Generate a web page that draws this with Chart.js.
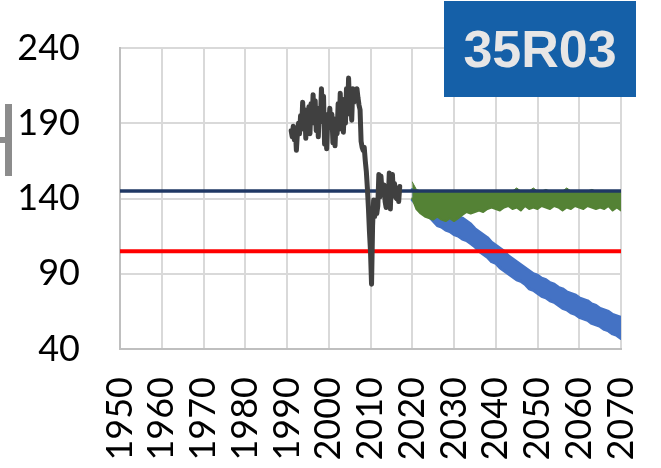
<!DOCTYPE html>
<html>
<head>
<meta charset="utf-8">
<script src="https://cdn.jsdelivr.net/npm/chart.js@4.4.1/dist/chart.umd.min.js"></script>
<style>
  html, body { margin: 0; padding: 0; background: #fff; }
  #wrap { position: relative; width: 661px; height: 468px; overflow: hidden; }
  #chart { position: absolute; left: 0; top: 0; }
  .titulo {
    position: absolute; left: 444px; top: 1px; width: 192px; height: 96px;
    background: #1560a8; color: #e7e6e6;
    font: bold 52px "Liberation Sans", Arial, sans-serif;
    display: flex; align-items: center; justify-content: center;
  }
  .barra { position: absolute; background: #8c8c8c; }
</style>
</head>
<body>
<div id="wrap">
  <canvas id="chart" width="661" height="468"></canvas>
  <div class="barra" style="left:5px; top:104px; width:7px; height:72px;"></div>
  <div class="barra" style="left:0px; top:137px; width:5px; height:6px;"></div>
  <div class="titulo">35R03</div>
</div>
<script>
// eje x: años, eje y: nivel
const X_TICKS = [1950, 1960, 1970, 1980, 1990, 2000, 2010, 2020, 2030, 2040, 2050, 2060, 2070];
const Y_TICKS = [40, 90, 140, 190, 240];

// umbrales
const LIMITE_ALTO = 145;
const LIMITE_BAJO = 105;

// serie historica (trimestral)
const histYears = [
  1991.00, 1991.25, 1991.50, 1991.75, 1992.00, 1992.25, 1992.50, 1992.75,
  1993.00, 1993.25, 1993.50, 1993.75, 1994.00, 1994.25, 1994.50, 1994.75,
  1995.00, 1995.25, 1995.50, 1995.75, 1996.00, 1996.25, 1996.50, 1996.75,
  1997.00, 1997.25, 1997.50, 1997.75, 1998.00, 1998.25, 1998.50, 1998.75,
  1999.00, 1999.25, 1999.50, 1999.75, 2000.00, 2000.25, 2000.50, 2000.75,
  2001.00, 2001.25, 2001.50, 2001.75, 2002.00, 2002.25, 2002.50, 2002.75,
  2003.00, 2003.25, 2003.50, 2003.75, 2004.00, 2004.25, 2004.50, 2004.75,
  2005.00, 2005.25, 2005.50, 2005.75, 2006.00, 2006.25, 2006.50, 2006.75,
  2007.00, 2007.25, 2007.50, 2007.75, 2008.00, 2008.25, 2008.50, 2008.75,
  2009.00, 2009.25, 2009.50, 2009.75, 2010.00, 2010.25, 2010.50, 2010.75,
  2011.00, 2011.25, 2011.50, 2011.75, 2012.00, 2012.25, 2012.50, 2012.75,
  2013.00, 2013.25, 2013.50, 2013.75, 2014.00, 2014.25, 2014.50, 2014.75,
  2015.00, 2015.25, 2015.50, 2015.75, 2016.00, 2016.25, 2016.50, 2016.75,
  2017.00
];
const histVals = [
  185, 181, 188, 179, 186, 172, 184, 190,
  183, 195, 186, 204, 190, 199, 180, 196,
  186, 201, 183, 203, 190, 209, 192, 205,
  185, 198, 181, 200, 191, 213, 196, 208,
  176, 196, 173, 192, 187, 200, 188, 196,
  177, 193, 175, 191, 183, 203, 186, 210,
  192, 206, 184, 200, 190, 213, 196, 220,
  200, 208, 192, 213, 204, 212, 205, 213,
  207, 202, 199, 178, 174, 172, 174, 165,
  158, 147, 134, 118, 105, 83, 122, 139,
  128, 139, 130, 135, 156, 141, 155, 145,
  143, 149, 138, 134, 147, 138, 157, 133,
  152, 156, 142, 150, 141, 140, 146, 138,
  148
];

// proyecciones (anuales)
const projYears = [
  2020, 2021, 2022, 2023, 2024, 2025, 2026, 2027, 2028, 2029,
  2030, 2031, 2032, 2033, 2034, 2035, 2036, 2037, 2038, 2039,
  2040, 2041, 2042, 2043, 2044, 2045, 2046, 2047, 2048, 2049,
  2050, 2051, 2052, 2053, 2054, 2055, 2056, 2057, 2058, 2059,
  2060, 2061, 2062, 2063, 2064, 2065, 2066, 2067, 2068, 2069,
  2070
];
const blueHigh = [
  146, 143, 141, 139, 137, 135, 133, 132, 131, 130,
  129, 128, 127, 125, 123, 120, 118, 116, 114, 111,
  109, 107, 105, 102, 100, 98, 96, 94, 92, 90,
  89, 87, 86, 84, 83, 81, 80, 78, 77, 76,
  74, 73, 72, 70, 69, 67, 66, 65, 63, 62,
  61
];
const blueLow = [
  139, 136, 133, 130, 128, 125, 122, 121, 119, 118,
  116, 115, 113, 112, 110, 108, 105, 103, 101, 98,
  97, 94, 92, 90, 88, 86, 85, 83, 80, 79,
  77, 75, 74, 72, 71, 69, 67, 66, 64, 63,
  61, 60, 59, 57, 56, 55, 53, 52, 50, 49,
  47
];
const greenHigh = [
  151, 146, 145, 145, 145, 145, 145, 145, 145, 145,
  145, 145, 145, 145, 145, 145, 145, 145, 145, 145,
  145, 145, 145, 145, 145, 147, 145, 145, 145, 147,
  145, 145, 146, 145, 145, 145, 145, 147, 145, 145,
  145, 145, 145, 146, 145, 145, 145, 145, 145, 145,
  145
];
const greenLow = [
  140, 133, 130, 128, 127, 126, 128, 126, 125, 127,
  125, 127, 129, 131, 130, 131, 132, 131, 133, 134,
  133, 132, 134, 135, 133, 134, 132, 135, 133, 134,
  133, 135, 134, 133, 135, 134, 132, 134, 133, 135,
  134, 133, 135, 134, 133, 134, 133, 135, 132, 134,
  132
];

const COLORS = {
  HIST: '#404040',
  ALTO: '#203864',
  BAJO: '#ff0000',
  VERDE: '#548235',
  AZUL: '#4472c4',
  GRID: '#d9d9d9',
  EJE: '#bfbfbf'
};

function puntos(xs, ys) {
  return xs.map((x, i) => ({ x: x, y: ys[i] }));
}

const lineaPlana = (valor) => [{ x: X_TICKS[0], y: valor }, { x: X_TICKS[X_TICKS.length - 1], y: valor }];

const fuente = { family: 'Lato, "Open Sans", sans-serif', size: 36 };

new Chart(document.getElementById('chart').getContext('2d'), {
  type: 'line',
  data: {
    datasets: [
      { data: puntos(histYears, histVals), borderColor: COLORS.HIST, borderWidth: 5, fill: false },
      { data: lineaPlana(LIMITE_BAJO), borderColor: COLORS.BAJO, borderWidth: 4, fill: false },
      { data: lineaPlana(LIMITE_ALTO), borderColor: COLORS.ALTO, borderWidth: 3.5, fill: false },
      { data: puntos(projYears, greenLow), borderColor: COLORS.VERDE, borderWidth: 2, fill: false },
      { data: puntos(projYears, greenHigh), borderColor: COLORS.VERDE, borderWidth: 1,
        backgroundColor: COLORS.VERDE, fill: '-1' },
      { data: puntos(projYears, blueLow), borderColor: COLORS.AZUL, borderWidth: 3, fill: false },
      { data: puntos(projYears, blueHigh), borderColor: COLORS.AZUL, borderWidth: 3,
        backgroundColor: COLORS.AZUL, fill: '-1' }
    ]
  },
  options: {
    responsive: false,
    animation: false,
    layout: { padding: { top: 48, right: 40, left: 0, bottom: 0 } },
    elements: {
      point: { radius: 0 },
      line: { tension: 0, borderJoinStyle: 'round', borderCapStyle: 'round' }
    },
    plugins: {
      legend: { display: false },
      tooltip: { enabled: false }
    },
    scales: {
      x: {
        type: 'linear',
        min: X_TICKS[0],
        max: X_TICKS[X_TICKS.length - 1],
        afterBuildTicks: (axis) => { axis.ticks = X_TICKS.map(v => ({ value: v })); },
        afterFit: (axis) => {
          axis.height = 119;
          axis.paddingLeft = 0;
          axis.paddingRight = 0;
        },
        grid: { color: COLORS.GRID, lineWidth: 2, drawTicks: false },
        border: { color: COLORS.EJE, width: 2 },
        ticks: {
          autoSkip: false,
          minRotation: 90,
          maxRotation: 90,
          padding: 28,
          color: '#000',
          font: fuente,
          callback: (v) => String(v)
        }
      },
      y: {
        min: Y_TICKS[0],
        max: Y_TICKS[Y_TICKS.length - 1],
        afterBuildTicks: (axis) => { axis.ticks = Y_TICKS.map(v => ({ value: v })); },
        afterFit: (axis) => {
          axis.width = 120;
          axis.paddingTop = 0;
          axis.paddingBottom = 0;
        },
        grid: { color: COLORS.GRID, lineWidth: 2, drawTicks: false },
        border: { color: COLORS.EJE, width: 2 },
        ticks: {
          padding: 40,
          color: '#000',
          font: fuente,
          callback: (v) => String(v)
        }
      }
    }
  }
});
</script>
</body>
</html>
